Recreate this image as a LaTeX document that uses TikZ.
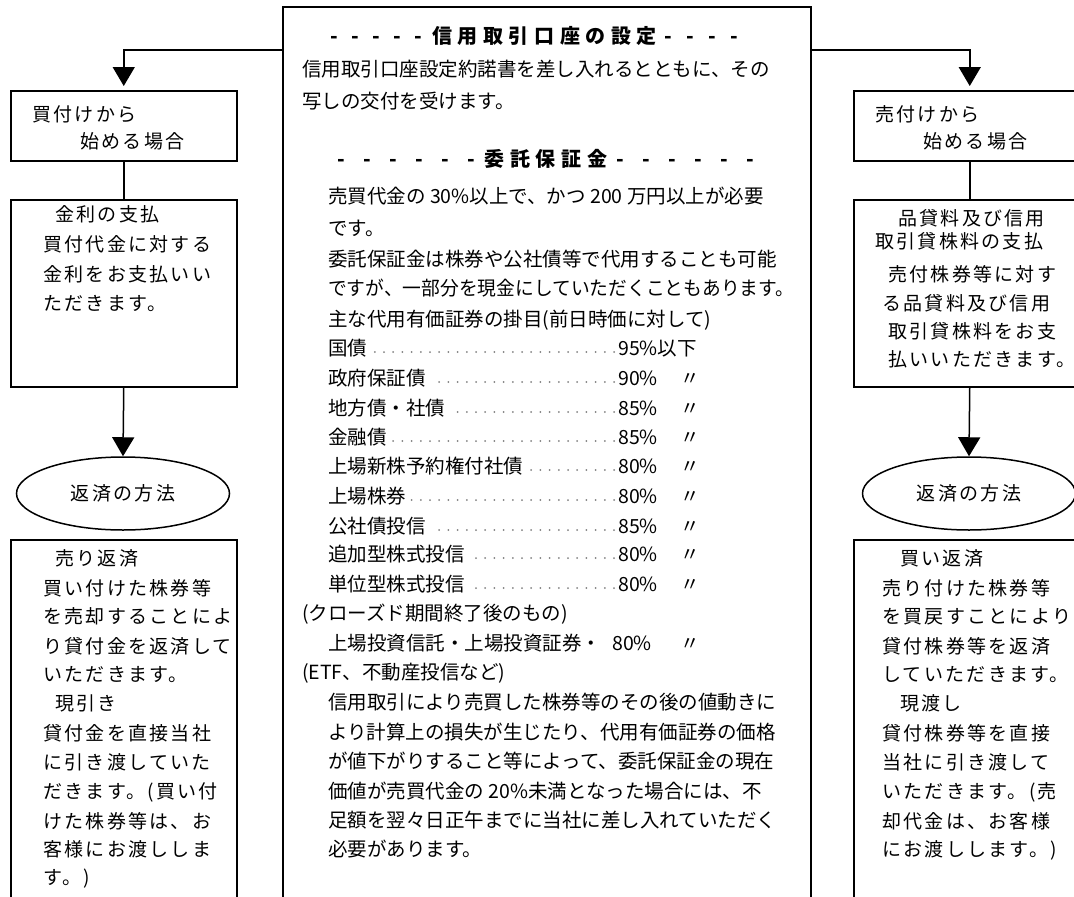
\documentclass[tikz,border=0pt]{standalone}
\usepackage{fontspec}
\usepackage{graphicx}
\usetikzlibrary{arrows.meta,shapes.geometric}
\setmainfont{Noto Sans CJK JP}
\newfontfamily\jpw[LetterSpace=12]{Noto Sans CJK JP}
\newfontfamily\jpt[LetterSpace=28]{Noto Sans CJK JP}
\newcommand{\tdash}[1]{\makebox[#1]{-}}
\begin{document}
\begin{tikzpicture}[x=1pt,y=-1pt,
  box/.style={draw,line width=1.5pt,anchor=north west,inner sep=0pt},
  oval/.style={draw,ellipse,line width=1.5pt,inner sep=0pt,minimum width=213pt,minimum height=73pt,font=\jpw\fontsize{19}{24}\selectfont},
  ctext/.style={anchor=west,inner sep=0pt,font=\fontsize{19.5}{24}\selectfont,text height=0.8em,text depth=0.2em},
  stext/.style={anchor=west,inner sep=0pt,font=\jpw\fontsize{19}{24}\selectfont,text height=0.8em,text depth=0.2em},
  ttext/.style={inner sep=0pt,font=\bfseries\fontsize{20}{24}\selectfont,text height=0.8em,text depth=0.2em},
  conn/.style={line width=1.5pt},
  arr/.style={conn,-{Triangle[width=22pt,length=19pt]}},
  leader/.style={draw=gray,line width=2pt,line cap=round,dash pattern=on 0pt off 9.2pt},
]
\useasboundingbox (0,0) rectangle (1074,897);
\fill[white] (0,0) rectangle (1074,897);
\clip (0,0) rectangle (1074,897);

% ---------- boxes ----------
\node[box,minimum width=528pt,minimum height=920pt] (setup) at (282,6) {};
\node[box,minimum width=226pt,minimum height=70pt] (buyA) at (10,90) {};
\node[box,minimum width=226pt,minimum height=187pt] (buyB) at (10,199) {};
\node[oval] (buyM) at (123,493.5) {返済の方法};
\node[box,minimum width=226pt,minimum height=400pt] (buyC) at (10,539) {};
\node[box,minimum width=232pt,minimum height=70pt] (sellA) at (853,90) {};
\node[box,minimum width=232pt,minimum height=187pt] (sellB) at (853,199) {};
\node[oval] (sellM) at (969,493.5) {返済の方法};
\node[box,minimum width=232pt,minimum height=400pt] (sellC) at (853,539) {};

% ---------- connectors ----------
\coordinate (jL) at (282,50);
\coordinate (jR) at (810,50);
\draw[arr,shorten >=4pt] (jL) -| (buyA.north);
\draw[arr,shorten >=4pt] (jR) -| (sellA.north);
\draw[conn] (buyA.south) -- (buyB.north);
\draw[conn] (sellA.south) -- (sellB.north);
\draw[arr] (buyB.south) -- (buyM.north);
\draw[arr] (sellB.south) -- (sellM.north);

% ---------- left column text ----------
\node[stext] (la1) at (32,118) {買付けから};
\node[stext] (la2) at (80,145) {始める場合};
\node[stext] (lb1) at (55,218) {金利の支払};
\node[stext] (lb2) at (43,248) {買付代金に対する};
\node[stext] (lb3) at (43,278) {金利をお支払いい};
\node[stext] (lb4) at (43,307) {ただきます。};
\node[stext] (lc1) at (55,562) {売り返済};
\node[stext] (lc2) at (43,592) {買い付けた株券等};
\node[stext] (lc3) at (43,620) {を売却することによ};
\node[stext] (lc4) at (43,650) {り貸付金を返済して};
\node[stext] (lc5) at (43,678) {いただきます。};
\node[stext] (lc6) at (55,707) {現引き};
\node[stext] (lc7) at (43,737) {貸付金を直接当社};
\node[stext] (lc8) at (43,766) {に引き渡していた};
\node[stext] (lc9) at (43,795) {だきます。(買い付};
\node[stext] (lc10) at (43,825) {けた株券等は、お};
\node[stext] (lc11) at (43,853) {客様にお渡ししま};
\node[stext] (lc12) at (43,881) {す。)};

% ---------- right column text ----------
\node[stext] (ra1) at (875,118) {売付けから};
\node[stext] (ra2) at (923,145) {始める場合};
\node[stext] (rb1) at (898,222) {品貸料及び信用};
\node[stext] (rb2) at (875,245) {取引貸株料の支払};
\node[stext] (rb3) at (888,278) {売付株券等に対す};
\node[stext] (rb4) at (882,307) {る品貸料及び信用};
\node[stext] (rb5) at (888,335) {取引貸株料をお支};
\node[stext] (rb6) at (888,363) {払いいただきます。};
\node[stext] (rc1) at (900,562) {買い返済};
\node[stext] (rc2) at (882,592) {売り付けた株券等};
\node[stext] (rc3) at (882,620) {を買戻すことにより};
\node[stext] (rc4) at (882,650) {貸付株券等を返済};
\node[stext] (rc5) at (882,678) {していただきます。};
\node[stext] (rc6) at (900,707) {現渡し};
\node[stext] (rc7) at (882,737) {貸付株券等を直接};
\node[stext] (rc8) at (882,766) {当社に引き渡して};
\node[stext] (rc9) at (882,795) {いただきます。(売};
\node[stext] (rc10) at (882,825) {却代金は、お客様};
\node[stext] (rc11) at (882,853) {にお渡しします。)};

% ---------- centre text ----------
\node[ttext,anchor=west] (t1) at (324,40) {\tdash{21pt}\tdash{21pt}\tdash{21pt}\tdash{21pt}\tdash{21pt}\hspace{3pt}{\jpt 信用取引口座の設定}\tdash{22pt}\tdash{22pt}\tdash{22pt}\tdash{22pt}};
\node[ctext] (c1) at (302,73) {信用取引口座設定約諾書を差し入れるとともに、その};
\node[ctext] (c2) at (302,105) {写しの交付を受けます。};
\node[ttext] (t2) at (546,163) {\tdash{26pt}\tdash{26pt}\tdash{26pt}\tdash{26pt}\tdash{26pt}\tdash{26pt}{\jpt 委託保証金}\tdash{26pt}\tdash{26pt}\tdash{26pt}\tdash{26pt}\tdash{26pt}\tdash{26pt}};
\node[ctext] (c3) at (328,200) {売買代金の 30\%以上で、かつ 200 万円以上が必要};
\node[ctext] (c4) at (328,232) {です。};
\node[ctext] (c5) at (328,263) {委託保証金は株券や公社債等で代用することも可能};
\node[ctext] (c6) at (328,292) {\resizebox{466pt}{\height}{ですが、一部分を現金にしていただくこともあります。}};
\node[ctext] (c7) at (328,323) {主な代用有価証券の掛目(前日時価に対して)};

\foreach \i/\y/\lab/\pct/\dit in {
  1/352/国債/95\%以下/,
  2/382/政府保証債/90\%/〃,
  3/412/地方債・社債/85\%/〃,
  4/441/金融債/85\%/〃,
  5/470/上場新株予約権付社債/80\%/〃,
  6/500/上場株券/80\%/〃,
  7/530/公社債投信/85\%/〃,
  8/558/追加型株式投信/80\%/〃,
  9/588/単位型株式投信/80\%/〃}{
  \node[ctext] (rl\i) at (328,\y) {\lab};
  \node[ctext] (rp\i) at (618,\y) {\pct};
  \node[ctext] (rd\i) at (680,\y) {\dit};
  \draw[leader] ([xshift=-4pt]rp\i.west) -- ([xshift=5pt]rl\i.east);
}
\node[ctext] (c8) at (302,617) {(クローズド期間終了後のもの)};
\node[ctext] (rl10) at (328,647) {上場投資信託・上場投資証券・};
\node[ctext] (rp10) at (612,647) {80\%};
\node[ctext] (rd10) at (680,647) {〃};
\node[ctext] (c9) at (302,676) {(ETF、不動産投信など)};
\node[ctext] (c10) at (328,706) {信用取引により売買した株券等のその後の値動きに};
\node[ctext] (c11) at (328,736) {より計算上の損失が生じたり、代用有価証券の価格};
\node[ctext] (c12) at (328,765) {が値下がりすること等によって、委託保証金の現在};
\node[ctext] (c13) at (328,795) {価値が売買代金の 20\%未満となった場合には、不};
\node[ctext] (c14) at (328,824) {足額を翌々日正午までに当社に差し入れていただく};
\node[ctext] (c15) at (328,853) {必要があります。};
\end{tikzpicture}
\end{document}
